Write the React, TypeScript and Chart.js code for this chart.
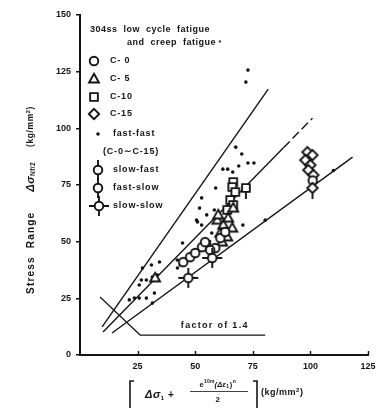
import React, { useEffect, useRef } from 'react';
import { Chart, registerables } from 'chart.js';
Chart.register(...registerables);

// ---- data (x = Δσ1 + e^{10m}(Δε1)^n/2, y = Δσ Nf/2), kg/mm² ----
const xTicks = [0, 25, 50, 75, 100, 125];
const yTicks = [0, 25, 50, 75, 100, 125, 150];

const fastFast: [number, number][] = [
  [72.9, 125.7], [72.0, 120.4], [67.6, 91.7], [70.2, 88.7],
  [62.0, 82.0], [64.1, 82.0], [66.3, 80.7], [68.9, 83.4], [72.9, 84.7], [75.5, 84.7],
  [58.9, 73.7], [52.8, 69.3], [51.9, 64.8], [50.6, 59.5], [55.0, 61.8], [52.8, 57.3],
  [58.3, 64.0], [44.5, 49.4], [42.3, 38.4], [43.5, 39.7], [42.2, 41.9], [70.7, 57.3],
  [51.0, 58.7], [57.2, 53.8],
  [27.1, 38.4], [31.0, 39.7], [34.5, 41.0], [26.6, 33.1], [28.8, 33.1], [31.4, 34.4],
  [33.6, 35.3], [25.7, 30.9], [21.4, 24.3], [23.6, 25.1], [25.7, 25.1], [28.8, 25.1],
  [32.3, 27.3], [31.4, 22.9], [80.4, 59.5], [110.0, 81.4],
];
const c0Points: [number, number][] = [
  [44.8, 41.0], [47.8, 43.2], [50.0, 45.0], [53.0, 47.6], [58.7, 47.2],
  [54.3, 49.8], [60.9, 51.6], [63.0, 54.3], [101.0, 77.0],
];
const c5Points: [number, number][] = [
  [59.6, 59.5], [62.2, 57.3], [64.3, 60.4], [60.9, 53.8], [63.9, 52.1],
  [61.7, 49.8], [66.1, 56.0], [66.5, 64.8], [60.0, 61.8], [32.6, 34.0],
];
const c10Points: [number, number][] = [
  [66.5, 76.3], [66.1, 74.1], [67.4, 71.9], [65.2, 68.4], [66.5, 66.2], [63.9, 64.0],
];
const c15Points: [number, number][] = [
  [98.7, 89.5], [100.9, 88.2], [97.8, 86.0], [100.0, 83.8], [99.1, 81.6], [101.3, 79.4],
];
const slowFast: [number, number][] = [[56.5, 46.3]];
const fastSlowSquare: [number, number][] = [[72.0, 73.7]];
const fastSlowDiamond: [number, number][] = [[100.9, 73.7]];
const slowSlow: [number, number][] = [[47.0, 34.0], [57.4, 42.8]];

const upperLine: [number, number][] = [[9.6, 12.4], [81.7, 117.3]];
const middleLine: [number, number][] = [[10.0, 10.1], [88.3, 91.4], [100.9, 104.5]];
const lowerLine: [number, number][] = [[13.9, 9.7], [118.3, 87.3]];
const factorBracket: [number, number][] = [[8.7, 25.6], [26.1, 8.8], [80.4, 8.8]];
const factorLabel = 'factor of 1.4';
const factorLabelPos: [number, number] = [58.5, 12.8];

const INK = '#141414';
const FONT = '"Liberation Sans", Arial, sans-serif';

type Shape = 'circle' | 'triangle' | 'square' | 'diamond' | 'dot';
type Stem = 'none' | 'vert' | 'cross' | 'down';

function makeMarker(shape: Shape, stem: Stem = 'none', r = 4.3, lw = 1.9): HTMLCanvasElement {
  const size = 24;
  const c = document.createElement('canvas');
  c.width = size;
  c.height = size;
  const ctx = c.getContext('2d')!;
  const cx = size / 2, cy = size / 2;
  ctx.strokeStyle = INK;
  ctx.fillStyle = '#fff';
  ctx.lineWidth = lw;
  ctx.lineCap = 'butt';
  ctx.beginPath();
  if (stem === 'vert' || stem === 'cross') { ctx.moveTo(cx, cy - 10); ctx.lineTo(cx, cy + 10); }
  if (stem === 'cross') { ctx.moveTo(cx - 10, cy); ctx.lineTo(cx + 10, cy); }
  if (stem === 'down') { ctx.moveTo(cx, cy); ctx.lineTo(cx, cy + 11); }
  ctx.stroke();
  ctx.beginPath();
  if (shape === 'circle') ctx.arc(cx, cy, r, 0, Math.PI * 2);
  else if (shape === 'triangle') {
    ctx.moveTo(cx, cy - r * 1.2);
    ctx.lineTo(cx + r * 1.15, cy + r * 0.8);
    ctx.lineTo(cx - r * 1.15, cy + r * 0.8);
    ctx.closePath();
  } else if (shape === 'square') ctx.rect(cx - r * 0.9, cy - r * 0.9, r * 1.8, r * 1.8);
  else if (shape === 'diamond') {
    ctx.moveTo(cx, cy - r * 1.2);
    ctx.lineTo(cx + r * 1.2, cy);
    ctx.lineTo(cx, cy + r * 1.2);
    ctx.lineTo(cx - r * 1.2, cy);
    ctx.closePath();
  } else if (shape === 'dot') {
    ctx.arc(cx, cy, 1.8, 0, Math.PI * 2);
    ctx.fillStyle = INK;
    ctx.fill();
    return c;
  }
  ctx.fill();
  ctx.stroke();
  return c;
}

type Run = { t: string; size: number; italic?: boolean; dy?: number; ls?: number };

function drawRuns(ctx: CanvasRenderingContext2D, runs: Run[], x: number, y: number, align: 'left' | 'center') {
  const fontOf = (r: Run) => `${r.italic ? 'italic ' : ''}bold ${r.size}px ${FONT}`;
  let total = 0;
  for (const r of runs) {
    ctx.font = fontOf(r);
    (ctx as any).letterSpacing = `${r.ls ?? 0.6}px`;
    total += ctx.measureText(r.t).width;
  }
  let cx = align === 'center' ? x - total / 2 : x;
  ctx.textAlign = 'left';
  ctx.textBaseline = 'middle';
  for (const r of runs) {
    ctx.font = fontOf(r);
    (ctx as any).letterSpacing = `${r.ls ?? 0.6}px`;
    ctx.fillText(r.t, cx, y + (r.dy ?? 0));
    cx += ctx.measureText(r.t).width;
  }
  (ctx as any).letterSpacing = '0px';
}

const pts = (a: [number, number][]) => a.map(([x, y]) => ({ x, y }));

export default function App() {
  const ref = useRef<HTMLCanvasElement | null>(null);

  useEffect(() => {
    document.body.style.margin = '0';
    const canvas = ref.current!;
    const mk = {
      c0: makeMarker('circle'),
      c5: makeMarker('triangle'),
      c10: makeMarker('square'),
      c15: makeMarker('diamond'),
      sf: makeMarker('circle', 'vert'),
      fs: makeMarker('circle', 'vert'),
      ss: makeMarker('circle', 'cross'),
      sqDown: makeMarker('square', 'down'),
      diDown: makeMarker('diamond', 'down'),
      dot: makeMarker('dot'),
    };

    const decor = {
      id: 'decor',
      afterDraw(chart: any) {
        const ctx: CanvasRenderingContext2D = chart.ctx;
        const xs = chart.scales.x, ys = chart.scales.y;
        ctx.save();
        ctx.fillStyle = INK;
        ctx.strokeStyle = INK;
        // inward x ticks
        ctx.lineWidth = 1.5;
        for (const v of xTicks.slice(1)) {
          const px = Math.round(xs.getPixelForValue(v)) + 0.5;
          ctx.beginPath();
          ctx.moveTo(px, ys.bottom);
          ctx.lineTo(px, ys.bottom - 4);
          ctx.stroke();
        }
        // factor label
        drawRuns(ctx, [{ t: factorLabel, size: 9, ls: 1.3 }],
          xs.getPixelForValue(factorLabelPos[0]), ys.getPixelForValue(factorLabelPos[1]), 'center');

        // legend
        drawRuns(ctx, [{ t: '304ss  low  cycle  fatigue', size: 9, ls: 0.5 }], 90, 30, 'left');
        drawRuns(ctx, [{ t: 'and  creep  fatigue', size: 9, ls: 0.5 }, { t: ' *', size: 7 }], 127, 43, 'left');
        const rows: [HTMLCanvasElement, number, number, string, number][] = [
          [mk.c0, 94, 61, 'C- 0', 110],
          [mk.c5, 94, 79, 'C- 5', 110],
          [mk.c10, 94, 97, 'C-10', 110],
          [mk.c15, 94, 114, 'C-15', 110],
          [mk.dot, 98, 134, 'fast-fast', 113],
          [mk.sf, 98, 170, 'slow-fast', 113],
          [mk.fs, 98, 188, 'fast-slow', 113],
          [mk.ss, 99, 206, 'slow-slow', 113],
        ];
        for (const [img, mx, my, label, tx] of rows) {
          ctx.drawImage(img, mx - 12, my - 12);
          drawRuns(ctx, [{ t: label, size: 9, ls: 0.8 }], tx, my, 'left');
        }
        drawRuns(ctx, [{ t: '(C-0∼C-15)', size: 9, ls: 0.8 }], 103, 152, 'left');

        // y title (rotated)
        ctx.save();
        ctx.translate(31, 200);
        ctx.rotate(-Math.PI / 2);
        drawRuns(ctx, [
          { t: 'Stress  Range     ', size: 10, ls: 1.2 },
          { t: 'Δσ', size: 11, italic: true, ls: 0.5 },
          { t: 'Nf/2', size: 6.5, dy: 2, ls: 0.5 },
          { t: '     (kg/mm', size: 8.5, ls: 0.6 },
          { t: '2', size: 5.5, dy: -3 },
          { t: ')', size: 8.5 },
        ], 0, 0, 'center');
        ctx.restore();

        // x title
        ctx.lineWidth = 1.6;
        ctx.beginPath();
        ctx.moveTo(134, 381); ctx.lineTo(130, 381); ctx.lineTo(130, 408);
        ctx.moveTo(253, 381); ctx.lineTo(257, 381); ctx.lineTo(257, 408);
        ctx.stroke();
        drawRuns(ctx, [
          { t: 'Δσ', size: 11, italic: true, ls: 0.5 },
          { t: '1', size: 6, dy: 3 },
          { t: ' +', size: 10 },
        ], 145, 395, 'left');
        drawRuns(ctx, [
          { t: 'e', size: 7.5, ls: 0.2 },
          { t: '10m', size: 5, dy: -3, ls: 0.2 },
          { t: '(Δε', size: 7.5, italic: true, ls: 0.2 },
          { t: '1', size: 5, dy: 2 },
          { t: ')', size: 7.5 },
          { t: 'n', size: 5, dy: -3 },
        ], 218, 385, 'center');
        ctx.lineWidth = 0.8;
        ctx.beginPath();
        ctx.moveTo(190, 391.5); ctx.lineTo(248, 391.5);
        ctx.stroke();
        drawRuns(ctx, [{ t: '2', size: 8 }], 218, 400, 'center');
        drawRuns(ctx, [
          { t: '(kg/mm', size: 9, ls: 0.5 },
          { t: '2', size: 6, dy: -3 },
          { t: ')', size: 9 },
        ], 261, 393, 'left');
        ctx.restore();
      },
    };

    const lineDs = (data: [number, number][], extra: any = {}) => ({
      data: pts(data), showLine: true, borderColor: INK, borderWidth: 1.4,
      pointRadius: 0, fill: false, tension: 0, ...extra,
    });
    const markerDs = (data: [number, number][], style: any) => ({
      data: pts(data), pointStyle: style, pointRadius: 5, showLine: false,
      backgroundColor: '#fff', borderColor: INK,
    });

    const tickFont = { family: FONT, size: 9, weight: 'bold' as const };

    const chart = new Chart(canvas, {
      type: 'scatter',
      data: {
        datasets: [
          markerDs(slowSlow, mk.ss),
          markerDs(slowFast, mk.sf),
          markerDs(fastSlowSquare, mk.sqDown),
          markerDs(fastSlowDiamond, mk.diDown),
          markerDs(c0Points, mk.c0),
          markerDs(c5Points, mk.c5),
          markerDs(c10Points, mk.c10),
          markerDs(c15Points, mk.c15),
          {
            data: pts(fastFast), pointStyle: 'circle', pointRadius: 1.8,
            backgroundColor: INK, borderColor: INK, borderWidth: 0, showLine: false,
          },
          lineDs(upperLine),
          lineDs(middleLine, {
            segment: { borderDash: (c: any) => (c.p0DataIndex === 1 ? [9, 4] : undefined) },
          }),
          lineDs(lowerLine),
          lineDs(factorBracket, { borderWidth: 1.2 }),
        ] as any,
      },
      options: {
        animation: false,
        responsive: false,
        maintainAspectRatio: false,
        events: [],
        layout: { padding: { left: 0, right: 17, top: 15, bottom: 0 } },
        plugins: { legend: { display: false }, tooltip: { enabled: false } },
        scales: {
          x: {
            type: 'linear', min: 0, max: 125,
            afterFit: (s: any) => { s.height = 53; },
            afterBuildTicks: (s: any) => { s.ticks = xTicks.map((v) => ({ value: v })); },
            ticks: {
              color: INK, font: tickFont, padding: 6, maxRotation: 0,
              callback: (v: any) => (v === 0 ? '' : String(v)),
            },
            grid: { drawOnChartArea: false, drawTicks: false, display: true },
            border: { color: INK, width: 2 },
          },
          y: {
            type: 'linear', min: 0, max: 150,
            afterFit: (s: any) => { s.width = 80; },
            afterBuildTicks: (s: any) => { s.ticks = yTicks.map((v) => ({ value: v })); },
            ticks: { color: INK, font: tickFont, padding: 5 },
            grid: { drawOnChartArea: false, tickLength: 4, color: INK, lineWidth: 1.5 },
            border: { color: INK, width: 2 },
          },
        },
      } as any,
      plugins: [decor],
    });
    return () => chart.destroy();
  }, []);

  return (
    <div style={{ width: 385, height: 408, background: '#fff' }}>
      <canvas ref={ref} width={385} height={408} style={{ display: 'block' }} />
    </div>
  );
}
